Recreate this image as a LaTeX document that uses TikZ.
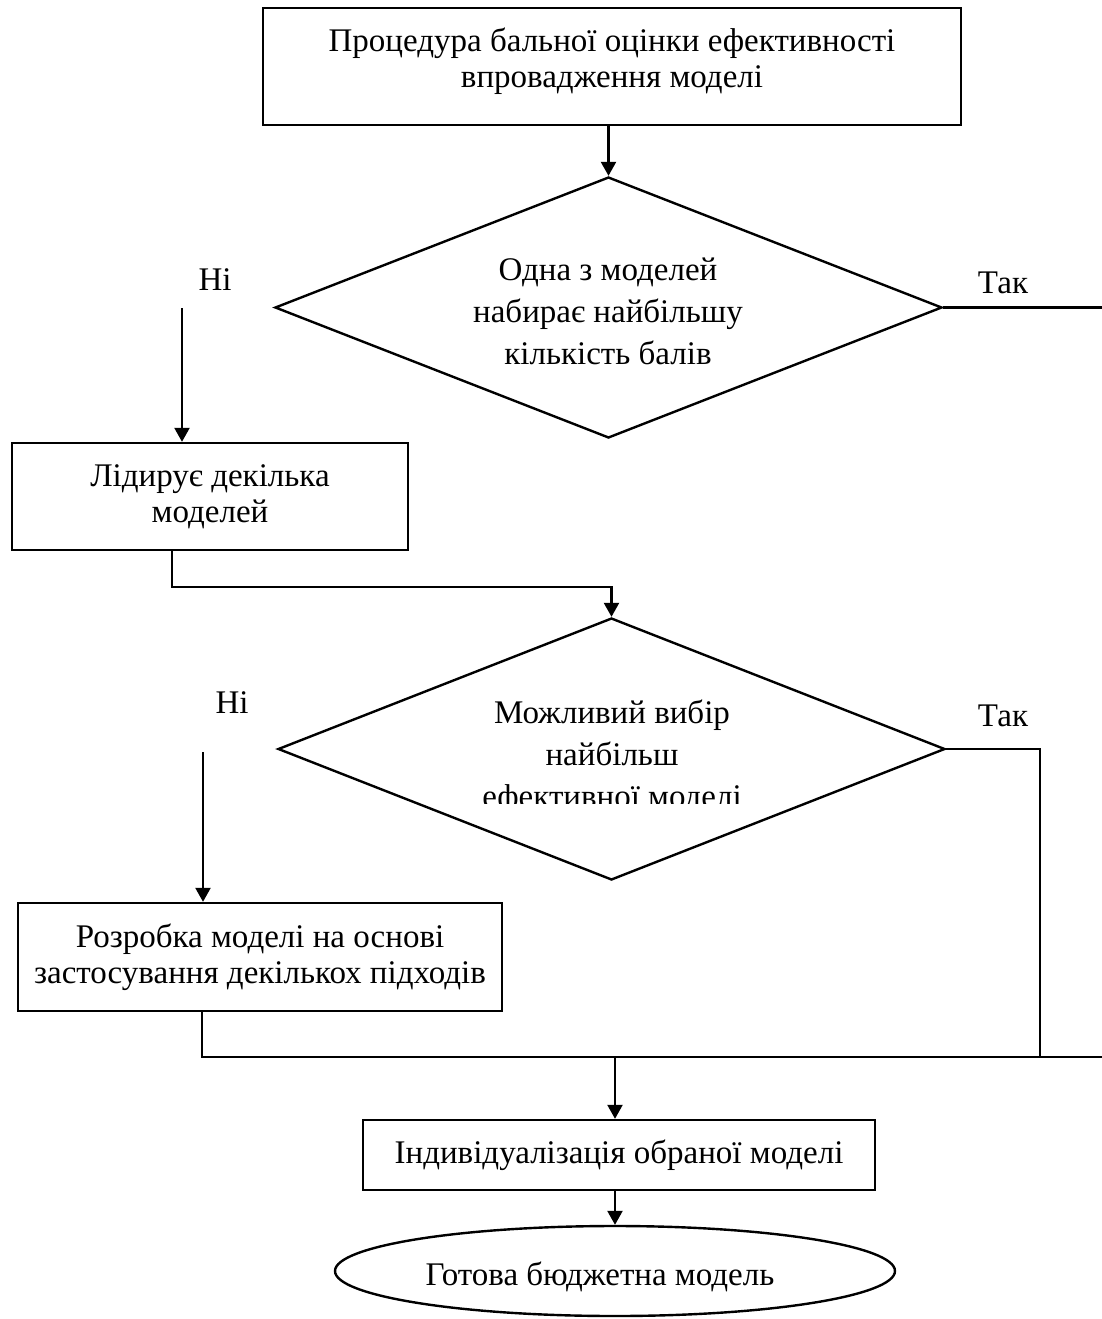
\documentclass[tikz,border=0pt]{standalone}
\usepackage{fontspec}
\setmainfont{Liberation Serif}
\usetikzlibrary{shapes.geometric,arrows.meta}
\begin{document}
\begin{tikzpicture}[x=0.5pt,y=-0.5pt,
  line width=1.2pt,
  txt/.style={font=\fontsize{16.5}{18}\selectfont, align=center, inner sep=0pt},
  box/.style={draw, rectangle, txt},
  dia/.style={draw, diamond, inner sep=0pt},
  diatxt/.style={font=\fontsize{16.5}{21}\selectfont, align=center, inner sep=0pt},
  oval/.style={draw, ellipse, txt},
  arr/.style={-{Triangle[width=7.5pt,length=7pt]}},
  lbl/.style={font=\fontsize{16.5}{18}\selectfont, inner sep=0pt},
]
\useasboundingbox (0,0) rectangle (1102,1319);

% nodes
\node[box, minimum width=349pt, minimum height=58.5pt] (b1) at (612,66.5) {};
\node[txt] (b1t) at (612,61) {Процедура бальної оцінки ефективності\\впровадження моделі};
\node[dia, minimum width=333.5pt, minimum height=130.5pt] (d1) at (608.5,307.5) {};
\node[diatxt] (d1t) at (608,311) {Одна з моделей\\набирає найбільшу\\кількість балів};
\node[box, minimum width=198pt, minimum height=53.5pt] (b2) at (210,496.5)
  {Лідирує декілька\\моделей};
\node[dia, minimum width=333.5pt, minimum height=131pt] (d2) at (611.5,749) {};
\begin{scope}
  \clip (0,600) rectangle (1102,803);
  \node[diatxt] (d2t) at (612,757) {Можливий вибір\\найбільш\\ефективної моделі};
\end{scope}
\node[box, minimum width=242pt, minimum height=54pt] (b3) at (260,957)
  {Розробка моделі на основі\\застосування декількох підходів};
\node[box, minimum width=256pt, minimum height=35pt] (b4) at (619,1155)
  {Індивідуалізація обраної моделі};
\node[oval, minimum width=280pt, minimum height=45pt] (e) at (615,1271) {};
\node[txt] (et) at (600,1277) {Готова бюджетна модель};

% labels
\node[lbl] (l1) at (215,280) {Ні};
\node[lbl] (l2) at (1003,283) {Так};
\node[lbl] (l3) at (232,703) {Ні};
\node[lbl] (l4) at (1003,716) {Так};

% coordinates
\coordinate (n1) at (182,308);
\coordinate (t1) at (1102,307.5);
\coordinate (c2) at (172,587);
\coordinate (n2) at (203,752);
\coordinate (t2) at (1040,1057);
\coordinate (m) at (202,1057);
\coordinate (r) at (1102,1057);
\coordinate (j) at (615,1057);

% connectors
\draw[arr] (d1.north |- b1.south) -- (d1.north);
\draw (d1.east) -- (t1);
\draw[arr] (n1) -- (n1 |- b2.north);
\draw[arr] (c2 |- b2.south) -- (c2) -| (d2.north);
\draw (d2.east) -| (t2);
\draw[arr] (n2) -- (n2 |- b3.north);
\draw (m |- b3.south) -- (m) -- (r);
\draw[arr] (j) -- (j |- b4.north);
\draw[arr] (b4.south -| e.north) -- (e.north);
\end{tikzpicture}
\end{document}
